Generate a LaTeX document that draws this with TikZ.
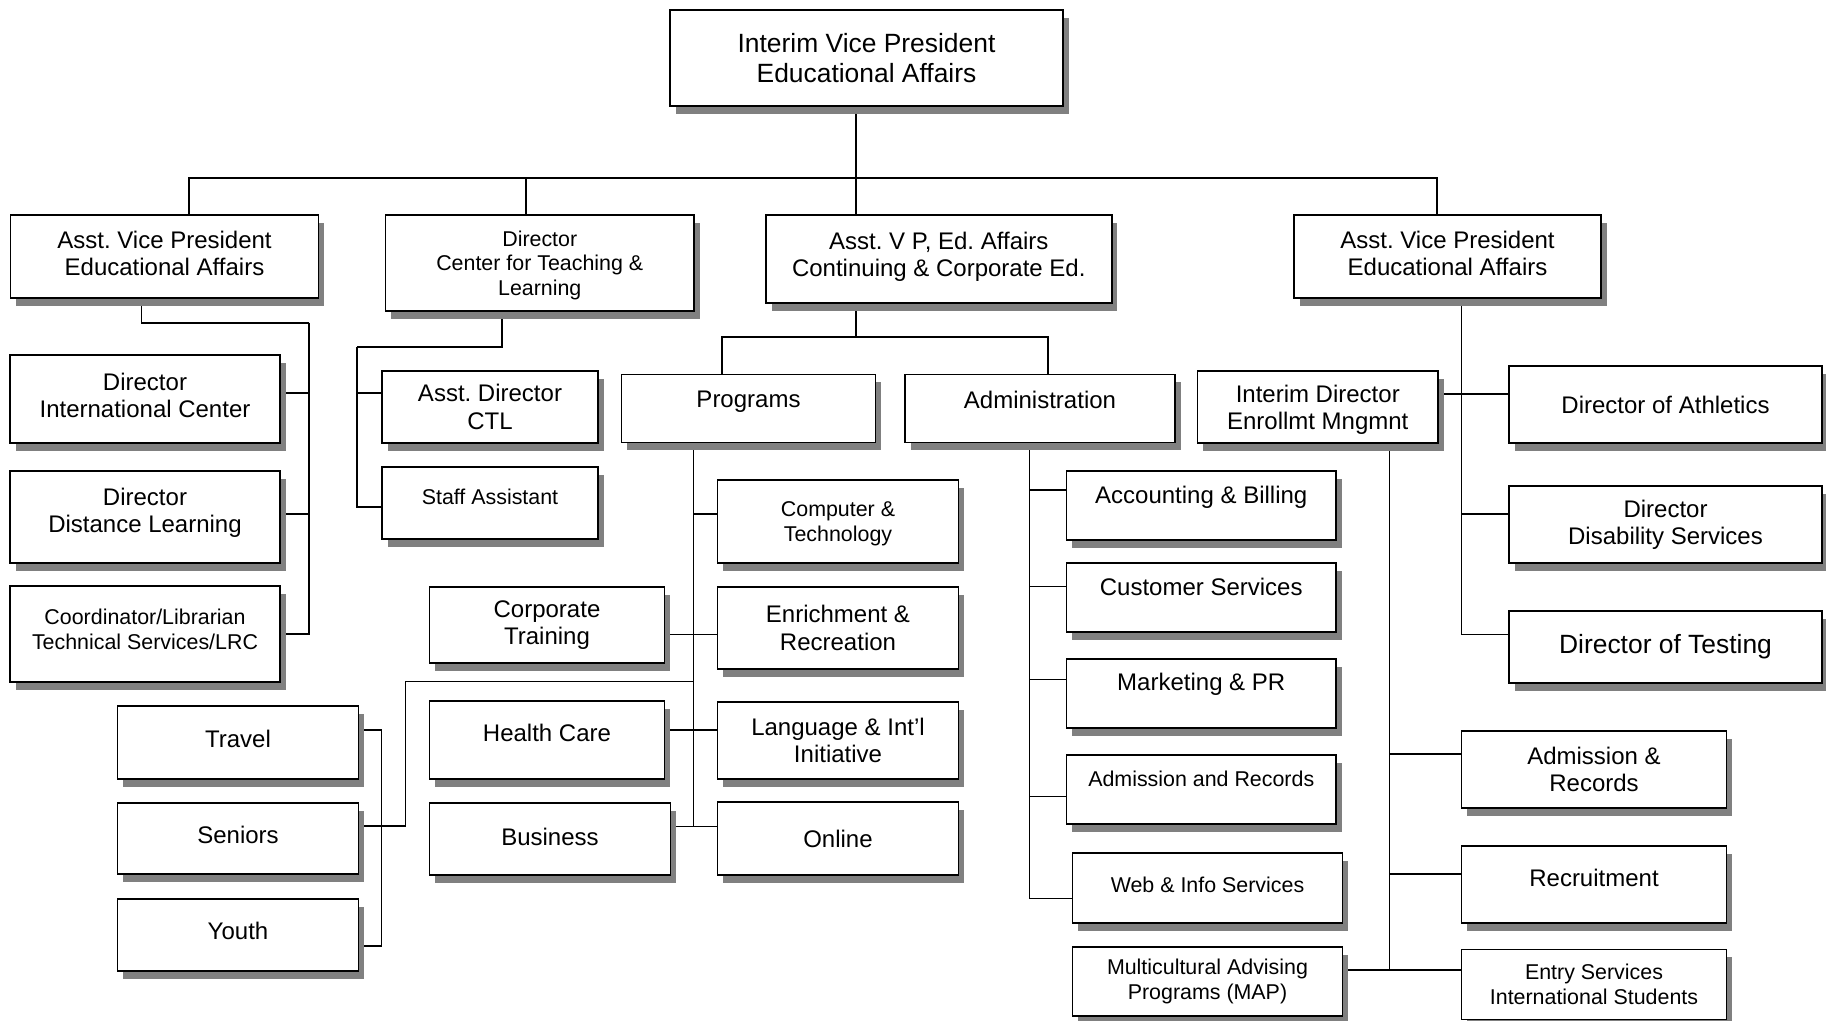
\documentclass[tikz,border=0pt]{standalone}
\usepackage{fontspec}
\setmainfont{Liberation Sans}
\usetikzlibrary{shadows,backgrounds}
\definecolor{shadowgray}{RGB}{128,128,128}
\frenchspacing
\begin{document}
\begin{tikzpicture}[x=0.5pt, y=-0.5pt,
    box/.style={draw, rectangle, line width=0.9pt, fill=white, anchor=north west, outer sep=0pt, inner sep=2pt, align=center,
        drop shadow={shadow xshift=2.8pt, shadow yshift=-3.9pt, fill=shadowgray, opacity=1}},
    txtbig/.style={font=\fontsize{13.2}{15}\selectfont},
    txtmid/.style={font=\fontsize{12}{13.6}\selectfont},
    txtsmall/.style={font=\fontsize{10.7}{12.3}\selectfont},
    lift/.style={text depth=#1},
    link/.style={line width=0.55pt}]
    \useasboundingbox (0,0) rectangle (1826,1021);

    \node (vp) [box, txtbig, minimum width=196.5pt, minimum height=48pt] at (670,10) {Interim Vice President\\Educational Affairs};

    \node (avp1) [box, txtmid, lift=3pt, minimum width=154pt, minimum height=41.5pt] at (10.5,215) {Asst. Vice President\\Educational Affairs};
    \node (ctl) [box, txtsmall, lift=0pt, minimum width=154.25pt, minimum height=48pt] at (385.5,215) {Director\\Center for Teaching \&\\Learning};
    \node (cont) [box, txtmid, lift=4.5pt, minimum width=172.8pt, minimum height=44pt] at (766,215) {Asst. V P, Ed. Affairs\\Continuing \& Corporate Ed.};
    \node (avp2) [box, txtmid, lift=3pt, minimum width=153.5pt, minimum height=41.5pt] at (1294,215) {Asst. Vice President\\Educational Affairs};

    \node (intl) [box, txtmid, lift=4pt, minimum width=135pt, minimum height=44pt] at (10,355) {Director\\International Center};
    \node (dl) [box, txtmid, lift=6.5pt, minimum width=135pt, minimum height=46pt] at (10,471) {Director\\Distance Learning};
    \node (coord) [box, txtsmall, lift=4.5pt, minimum width=135pt, minimum height=48pt] at (10,586) {Coordinator/Librarian\\Technical Services/LRC};

    \node (actl) [box, txtmid, minimum width=108pt, minimum height=36pt] at (382,371) {Asst. Director\\CTL};
    \node (staff) [box, txtsmall, lift=6pt, minimum width=108pt, minimum height=36pt] at (382,467) {Staff Assistant};

    \node (prog) [box, txtmid, lift=9.5pt, minimum width=127pt, minimum height=34pt] at (621.5,374.5) {Programs};
    \node (admin) [box, txtmid, lift=9pt, minimum width=135pt, minimum height=34pt] at (905,374.5) {Administration};

    \node (comp) [box, txtsmall, lift=0pt, minimum width=120.5pt, minimum height=41.5pt] at (717.5,480) {Computer \&\\Technology};
    \node (enrich) [box, txtmid, minimum width=120.5pt, minimum height=41pt] at (717.5,587) {Enrichment \&\\Recreation};
    \node (lang) [box, txtmid, minimum width=120.5pt, minimum height=38.5pt] at (717.5,702) {Language \& Int’l\\Initiative};
    \node (online) [box, txtmid, minimum width=120.5pt, minimum height=36.5pt] at (717.5,802) {Online};

    \node (corp) [box, txtmid, minimum width=117.5pt, minimum height=38pt] at (429.5,587) {Corporate\\Training};
    \node (health) [box, txtmid, lift=7pt, minimum width=117.5pt, minimum height=39pt] at (429.5,701) {Health Care};
    \node (business) [box, txtmid, lift=2pt, minimum width=120.5pt, minimum height=36pt] at (429.5,803) {Business};

    \node (travel) [box, txtmid, lift=4pt, minimum width=120.5pt, minimum height=36.5pt] at (117.5,706) {Travel};
    \node (seniors) [box, txtmid, lift=4pt, minimum width=120.5pt, minimum height=35.5pt] at (117.5,803) {Seniors};
    \node (youth) [box, txtmid, lift=4pt, minimum width=120.5pt, minimum height=36pt] at (117.5,899) {Youth};

    \node (acct) [box, txtmid, lift=11pt, minimum width=134.75pt, minimum height=34.5pt] at (1066.5,471) {Accounting \& Billing};
    \node (cust) [box, txtmid, lift=10.5pt, minimum width=134.75pt, minimum height=34.5pt] at (1066.5,563) {Customer Services};
    \node (mkt) [box, txtmid, lift=11.5pt, minimum width=134.75pt, minimum height=34.5pt] at (1066.5,659) {Marketing \& PR};
    \node (adrec) [box, txtsmall, lift=11pt, minimum width=134.75pt, minimum height=34.5pt] at (1066.5,755) {Admission and Records};
    \node (web) [box, txtsmall, lift=3pt, minimum width=135pt, minimum height=35pt] at (1072.5,853) {Web \& Info Services};
    \node (map) [box, txtsmall, minimum width=135pt, minimum height=34.5pt] at (1072.5,947) {Multicultural Advising\\Programs (MAP)};

    \node (idir) [box, txtmid, lift=0pt, minimum width=120.25pt, minimum height=36pt] at (1197.5,371) {Interim Director\\Enrollmt Mngmnt};
    \node (ath) [box, txtmid, minimum width=156.5pt, minimum height=38.5pt] at (1509,366) {Director of Athletics};
    \node (disab) [box, txtmid, minimum width=156.5pt, minimum height=38.5pt] at (1509,486) {Director\\Disability Services};
    \node (test) [box, txtbig, minimum width=156.5pt, minimum height=36pt] at (1509,611) {Director of Testing};

    \node (admrec) [box, txtmid, minimum width=132.5pt, minimum height=38.5pt] at (1461.5,731) {Admission \&\\Records};
    \node (recr) [box, txtmid, lift=6.5pt, minimum width=132.5pt, minimum height=38.5pt] at (1461.5,846) {Recruitment};
    \node (entry) [box, txtsmall, minimum width=132.5pt, minimum height=35pt] at (1461.5,949.5) {Entry Services\\International Students};

    \begin{scope}[on background layer]
        \coordinate (trunk) at (856,178);
        \draw[link] ([xshift=-5.25pt]vp.south) -- ([xshift=-41.4pt]cont.north);
        \draw[link] ([xshift=12.25pt]avp1.north) |- (trunk);
        \draw[link] ([xshift=-6.9pt]ctl.north) |- (trunk);
        \draw[link] ([xshift=-5.25pt]avp2.north) |- (trunk);

        \coordinate (lbus) at (309,323);
        \draw[link] ([xshift=-11.5pt]avp1.south) |- (lbus);
        \foreach \n/\s in {intl/3pt, dl/1.5pt, coord/0pt}
            \draw[link] (lbus) |- ([yshift=\s]\n.east);

        \coordinate (cbus) at (357,347);
        \draw[link] ([xshift=-18.9pt]ctl.south) |- (cbus);
        \foreach \n/\s in {actl/7pt, staff/-2pt}
            \draw[link] (cbus) |- ([yshift=\s]\n.west);

        \coordinate (ebus) at (856,337);
        \draw[link] ([xshift=-41.4pt]cont.south) -- (ebus);
        \draw[link] ([xshift=-13.25pt]prog.north) |- (ebus);
        \draw[link] ([xshift=4pt]admin.north) |- (ebus);

        \coordinate (pbus) at ([xshift=-27.4pt]prog.south);
        \foreach \n/\s in {comp/3.75pt, enrich/-3.15pt, lang/5.25pt, online/5.9pt}
            \draw[link] (pbus) |- ([yshift=\s]\n.west);
        \foreach \n/\s in {corp/-4.65pt, health/5pt, business/6.15pt}
            \draw[link] (pbus) |- ([yshift=\s]\n.east);

        \coordinate (plink) at (405.3,681.7);
        \draw[link] (pbus) |- (plink) |- ([yshift=6.25pt]seniors.east);
        \coordinate (tbus) at (381.7,730);
        \foreach \n/\s in {travel/6.25pt, seniors/6.25pt, youth/-5.5pt}
            \draw[link] (tbus) |- ([yshift=\s]\n.east);

        \coordinate (abus) at ([xshift=-5.3pt]admin.south);
        \foreach \n/\s in {acct/7.75pt, cust/5.4pt, mkt/7pt, adrec/-3.6pt, web/-5.15pt}
            \draw[link] (abus) |- ([yshift=\s]\n.west);

        \coordinate (rbus) at ([xshift=7.1pt]avp2.south);
        \foreach \n/\s in {ath/5.25pt, disab/5.25pt, test/6.35pt}
            \draw[link] (rbus) |- ([yshift=\s]\n.west);
        \draw[link] ([yshift=6.5pt]idir.east) -| (rbus);

        \coordinate (nbus) at ([xshift=35.8pt]idir.south);
        \foreach \n/\s in {admrec/7.75pt, recr/5.25pt, entry/7.25pt}
            \draw[link] (nbus) |- ([yshift=\s]\n.west);
        \draw[link] (nbus) |- ([yshift=5.75pt]map.east);
    \end{scope}
\end{tikzpicture}
\end{document}
